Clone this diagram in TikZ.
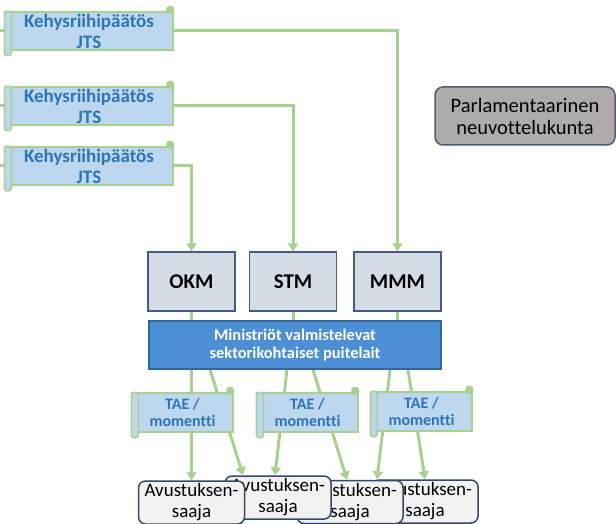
\documentclass[tikz,border=0pt]{standalone}
\usepackage{fontspec}
\setmainfont{Carlito}[Ligatures=NoCommon]
\usepackage{tikz}
\usetikzlibrary{positioning,arrows.meta,backgrounds}
\definecolor{lgreen}{RGB}{169,209,142}
\definecolor{scrollfill}{RGB}{189,215,238}
\definecolor{scrolltext}{RGB}{46,117,182}
\definecolor{minfill}{RGB}{214,220,229}
\definecolor{minborder}{RGB}{68,94,128}
\definecolor{sectfill}{RGB}{76,143,212}
\definecolor{sectborder}{RGB}{49,102,158}
\definecolor{parlfill}{RGB}{175,171,171}
\definecolor{parlborder}{RGB}{78,94,110}
\definecolor{recfill}{RGB}{242,242,242}
\definecolor{recborder}{RGB}{52,74,104}
\tikzset{
  scrollbox/.style = {draw=lgreen, fill=scrollfill, line width=1.5pt, align=center,
                      minimum width=168pt, minimum height=38pt, inner sep=0pt,
                      text=scrolltext, font=\bfseries\fontsize{19}{21}\selectfont},
  tae/.style       = {scrollbox, minimum width=101pt, minimum height=39pt,
                      font=\bfseries\fontsize{16}{17.5}\selectfont},
  roll/.style      = {draw=lgreen, fill=scrollfill, line width=1.5pt, rounded corners=2.5pt},
  knob/.style      = {draw=lgreen, fill=lgreen, line width=1pt, rounded corners=3pt},
  mini/.style      = {draw=minborder, fill=minfill, line width=1.3pt,
                      minimum width=87pt, minimum height=59pt,
                      font=\bfseries\fontsize{21}{24}\selectfont},
  sector/.style    = {draw=sectborder, fill=sectfill, line width=1.3pt, align=center,
                      minimum width=292pt, minimum height=48pt, text=white,
                      font=\bfseries\fontsize{16.4}{18.5}\selectfont},
  parl/.style      = {draw=parlborder, fill=parlfill, line width=1.5pt, rounded corners=8pt,
                      align=center, minimum width=180pt, minimum height=58pt,
                      font=\fontsize{20.5}{22}\selectfont},
  recip/.style     = {draw=recborder, fill=recfill, line width=1.5pt, rounded corners=7pt,
                      align=center, minimum width=106pt, minimum height=43pt, inner sep=0pt,
                      font=\fontsize{19}{21}\selectfont},
  ln/.style        = {draw=lgreen, line width=3pt},
  ar/.style        = {ln, -{Triangle[length=8pt,width=10pt]}},
}
\begin{document}
\begin{tikzpicture}[x=1pt,y=-1pt]
\useasboundingbox (0,0) rectangle (616,524);
\coordinate (edge) at (0,0);

% JTS framework decisions
\node[scrollbox] (k1) at (89,31)  {Kehysriihipäätös\\JTS};
\node[scrollbox] (k2) at (89,106) {Kehysriihipäätös\\JTS};
\node[scrollbox] (k3) at (89,166) {Kehysriihipäätös\\JTS};

\node[parl] (pnk) at (525,116) {Parlamentaarinen\\neuvottelukunta};

% ministries
\node[mini] (okm) at (191.5,281.5) {OKM};
\node[mini] (stm) at (293,281.5)   {STM};
\node[mini] (mmm) at (397.5,281.5) {MMM};

\node[sector] (puite) at (295,345) {Ministriöt valmistelevat\\sektorikohtaiset puitelait};

\node[tae] (t1) at (182.5,412.5) {TAE /\\momentti};
\node[tae] (t2) at (307.5,412.5) {TAE /\\momentti};
\node[tae] (t3) at (421.5,411.5) {TAE /\\momentti};

% recipients, back to front
\node[recip] (a4) at (425,501.5)   {Avustuksen-\\saaja};
\node[recip] (a3) at (350,502)     {Avustuksen-\\saaja};
\node[recip] (a2) at (278,497.5)   {Avustuksen-\\saaja};
\node[recip] (a1) at (191.5,502.5) {Avustuksen-\\saaja};

\foreach \s in {k1,k2,k3,t1,t2,t3}{
  \draw[roll] (\s.north west) rectangle ([xshift=7pt,yshift=-5pt]\s.south west);
  \draw[knob] ([xshift=-7pt,yshift=-2pt]\s.north east) rectangle ([yshift=5pt]\s.north east);
}

\begin{scope}[on background layer]
\draw[ln] (k1.west -| edge) -- (k1.west);
\draw[ln] (k2.west -| edge) -- (k2.west);
\draw[ln] (k3.west -| edge) -- (k3.west);
\draw[ar] (k1.east) -| (mmm.north);
\draw[ar] (k2.east) -| (stm.north);
\draw[ar] (k3.east) -| (okm.north);
\draw[ln] (okm) -- (okm |- puite.north);
\draw[ln] (stm) -- (stm |- puite.north);
\draw[ln] (mmm) -- (mmm |- puite.north);
\draw[ar] (puite.south -| a1.north) -- (a1.north);
\draw[ar] ([xshift=-85pt]puite.south) -- ([xshift=-35pt]a2.north);
\draw[ar] ([xshift=-8pt]puite.south) -- ([xshift=-3pt]a2.north);
\draw[ar] ([xshift=18pt]puite.south) -- ([xshift=-3pt]a3.north);
\draw[ar] ([xshift=95pt]puite.south) -- ([xshift=-48pt]a4.north);
\draw[ar] ([xshift=113pt]puite.south) -- (a4.north);
\end{scope}
\end{tikzpicture}
\end{document}
